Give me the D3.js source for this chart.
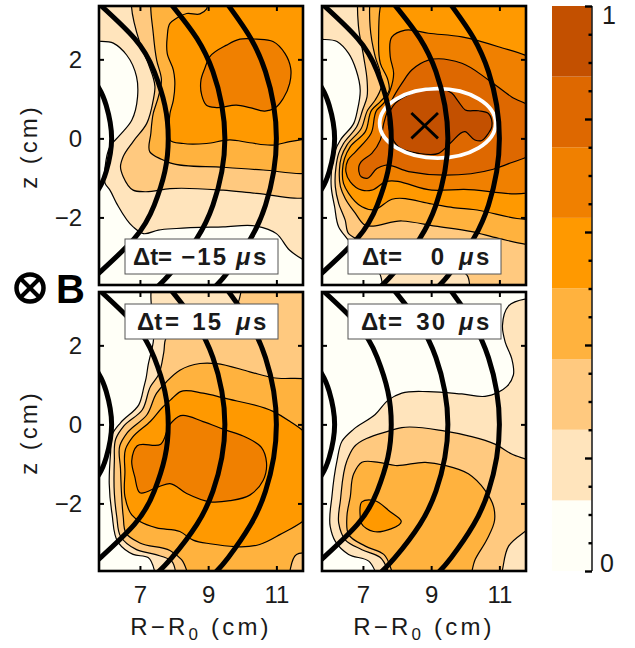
<!DOCTYPE html>
<html><head><meta charset="utf-8">
<style>html,body{margin:0;padding:0;background:#fff}svg{display:block}text{font-family:"Liberation Sans",sans-serif;fill:#1a1a1a}</style>
<script src="https://cdn.jsdelivr.net/npm/d3@7/dist/d3.min.js"></script>
</head><body><svg id="c" width="635" height="648"></svg>
<script>
// ---------- data (R-R0 in cm, z in cm) ----------
const xDomain=[5.8,11.78], zDomain=[-3.71,3.35];
const xTicks=[7,9,11], zTicks=[-2,0,2];
const levelColors=["#FFFFF7","#FFE4BC","#FFC97F","#FFB23E","#FF9900","#F08000","#DE6800","#C35000"];
const barMajor=[0,.2,.4,.6,.8,1];
const barMinor=[.05,.1,.15,.25,.3,.35,.45,.5,.55,.65,.7,.75,.85,.9,.95];
const barLabels=[0,1];
const panelLabels=["−15","0","15","30"];

const arc1=[[5.47,1.69],[5.8,1.27],[6.01,.84],[6.17,0],[6.01,-.84],[5.8,-1.27],[5.47,-1.69]];
const arc2=[[5.6,3.6],[5.73,3.46],[6.84,2.53],[7.42,1.69],[7.73,.84],[7.83,0],[7.73,-.84],[7.42,-1.69],[6.84,-2.53],[5.73,-3.46],[5.6,-3.6]];
const arc3=[[7.93,3.38],[8.67,2.53],[9.14,1.69],[9.4,.84],[9.49,0],[9.4,-.84],[9.14,-1.69],[8.67,-2.53],[7.93,-3.38],[7.52,-3.75]];
const arc4=[[9.58,3.38],[10.25,2.53],[10.68,1.69],[10.92,.84],[11,0],[10.92,-.84],[10.68,-1.69],[10.25,-2.53],[9.58,-3.38],[9.21,-3.75]];
const fluxArcs=[arc1,arc2,arc3,arc4];

const p1L1=[[5.8,2.51],[6.22,2.41],[6.61,2.11],[6.9,1.56],[6.93,1.05],[6.76,.46],[6.41,.08],[6.12,-.21],[5.98,-.72],[5.98,-1.14],[6.12,-1.31],[6.32,-1.65],[6.8,-2.24],[7.1,-2.41],[7.54,-2.32],[8.07,-2.28],[9.44,-2.24],[10.42,-2.22],[11,-2.41],[11.39,-2.83],[11.78,-3.17],[11.78,3.35],[5.8,3.35]];
const p1L2=[[6.76,3.35],[7,2.41],[7.24,1.9],[7.44,1.31],[7.39,.97],[7.2,.38],[6.8,-.08],[6.51,-.46],[6.43,-.72],[6.51,-.97],[6.8,-1.31],[7.15,-1.35],[7.88,-1.27],[9.44,-1.31],[10.42,-1.39],[11.78,-1.48],[11.78,3.35]];
const p1L3=[[7.34,3.35],[7.39,2.66],[7.49,1.98],[7.63,1.48],[7.54,1.05],[7.39,.63],[7.32,.13],[7.29,-.34],[7.63,-.53],[7.88,-.62],[9.44,-.73],[10.61,-.8],[11.78,-.86],[11.78,3.35]];
const p1L4=[[8.97,3.35],[8.95,3.27],[8.76,3.15],[8.37,3.16],[8.07,3.04],[7.88,2.91],[7.8,2.57],[7.8,2.15],[7.98,1.73],[8.02,1.48],[7.98,.97],[7.88,.63],[7.86,.13],[7.88,-.04],[8.27,-.13],[8.95,-.13],[9.64,-.04],[10.22,-.11],[10.9,-.17],[11.39,-.08],[11.78,.03],[11.78,3.35]];
const p1L5=[[8.9,1.77],[8.79,1.48],[8.81,1.1],[8.95,.84],[9.24,.78],[9.83,.84],[10.22,.78],[10.66,.69],[10.95,.76],[11.2,1.01],[11.39,1.39],[11.42,1.77],[11.25,2.15],[10.9,2.45],[10.42,2.51],[9.93,2.51],[9.54,2.36],[9.05,2.07]];

const p2L1=[[5.8,2.56],[6.24,2.45],[6.58,2.15],[6.8,1.73],[6.92,1.22],[6.84,.72],[6.73,.38],[6.34,-.04],[6.19,-.3],[6.09,-.72],[6.07,-1.22],[6.17,-1.73],[6.29,-2.24],[6.53,-2.53],[7.51,-3.46],[7.63,-3.71],[11.78,-3.71],[11.78,3.35],[5.8,3.35]];
const p2L2=[[6.87,3.35],[6.87,2.83],[7.02,2.07],[7.12,1.48],[7.12,1.05],[6.99,.72],[6.82,.3],[6.43,-.13],[6.29,-.38],[6.21,-.72],[6.19,-1.22],[6.29,-1.65],[6.48,-2.07],[6.58,-2.41],[6.78,-2.53],[7.46,-2.91],[8.63,-3.17],[9.61,-3.25],[10.05,-3.46],[10.19,-3.71],[11.78,-3.71],[11.78,3.35]];
const p2L3=[[7.24,3.35],[7.21,2.83],[7.36,2.07],[7.51,1.65],[7.54,1.31],[7.36,.97],[7.14,.72],[6.95,.25],[6.53,-.17],[6.37,-.46],[6.31,-.8],[6.34,-1.22],[6.48,-1.52],[6.78,-1.9],[7.02,-2.17],[8.14,-2.09],[9.12,-2.22],[10.19,-2.36],[10.97,-2.53],[11.78,-2.7],[11.78,3.35]];
const p2L4=[[7.61,3.35],[7.46,2.57],[7.51,1.9],[7.73,1.48],[7.77,1.22],[7.51,.93],[7.26,.72],[7.07,.17],[6.63,-.21],[6.46,-.51],[6.4,-.8],[6.43,-1.14],[6.58,-1.39],[6.97,-1.73],[7.31,-1.81],[7.85,-1.54],[9.02,-1.66],[9.64,-1.75],[10.23,-1.8],[11.78,-2.03],[11.78,3.1],[11.36,3.35]];
const p2L5=[[11.78,1.98],[10.97,2.32],[9.9,2.57],[8.92,2.66],[8.24,2.74],[7.85,2.57],[7.8,2.07],[7.9,1.65],[7.8,1.22],[7.61,.89],[7.41,.72],[7.24,.13],[6.78,-.34],[6.56,-.55],[6.5,-.84],[6.63,-1.1],[6.97,-1.31],[7.26,-1.31],[7.65,-1.1],[9.02,-1.31],[9.94,-1.29],[11.78,-1.31]];
const p2L6=[[6.95,-.59],[7.26,-.38],[7.51,-.04],[7.61,.38],[7.85,.97],[8.14,1.39],[8.43,1.73],[8.92,1.98],[9.9,1.9],[10.68,1.48],[11.36,1.05],[11.78,.72],[11.78,-.34],[11.3,-.63],[10.82,-.78],[9.41,-.93],[8.34,-.84],[7.65,-.68],[7.41,-.76],[7.12,-1.01],[6.95,-.97],[6.89,-.68]];
const p2L7=[[7.95,.89],[8.43,1.14],[8.92,1.27],[9.61,1.14],[9.8,.93],[10,.72],[10.39,.7],[10.68,.63],[10.78,.3],[10.68,.13],[10.47,-.06],[10.28,-.04],[9.99,.17],[9.55,-.13],[9.22,-.38],[8.63,-.38],[8.04,-.21],[7.8,.13],[7.75,.55]];

const p3L1=[[7.39,3.35],[7.39,2.08],[7.24,1.5],[7.18,1.17],[7.12,.96],[6.97,.5],[6.43,.04],[6.19,-.25],[6.14,-.71],[6.1,-1.5],[6.18,-2.25],[6.37,-3],[6.8,-3.29],[7.24,-3.37],[7.54,-3.71],[11.78,-3.71],[11.78,3.35]];
const p3L2=[[10.07,3.35],[9.83,3],[8.46,2.5],[7.76,2.17],[7.7,1.83],[7.54,1.25],[7.31,.96],[7.07,.37],[6.53,-.04],[6.29,-.37],[6.25,-.92],[6.25,-1.75],[6.32,-2.33],[6.43,-2.83],[6.9,-3.17],[7.44,-3.29],[7.93,-3.46],[8.12,-3.71],[11.78,-3.71],[11.78,3.35]];
const p3L3=[[11.78,1.12],[10.9,1.18],[10.22,1.33],[9.24,1.54],[8.76,1.54],[8.17,1.37],[7.78,1.08],[7.49,.79],[7.21,.25],[6.63,-.21],[6.41,-.54],[6.43,-1.12],[6.46,-1.75],[6.51,-2.33],[6.59,-2.75],[7,-3],[7.88,-3.19],[8.22,-3.42],[8.51,-3.71],[11.29,-3.71],[11.59,-3.29],[11.78,-3.23]];
const p3L4=[[11.78,-.37],[11.39,.08],[10.9,.33],[9.44,.67],[8.85,.79],[8.19,.83],[7.9,.62],[7.65,.42],[7.31,.08],[6.78,-.33],[6.58,-.62],[6.56,-1.21],[6.56,-1.83],[6.76,-2.29],[7,-2.46],[7.49,-2.62],[8.17,-2.71],[8.56,-2.93],[9.05,-3.02],[10.51,-3.04],[11.1,-2.79],[11.78,-2.25]];
const p3L5=[[6.92,-.54],[7.61,-.5],[7.88,0],[8.19,.22],[8.85,.07],[9.44,-.12],[10.12,-.33],[10.56,-.58],[10.71,-.96],[10.61,-1.42],[10.22,-1.79],[9.64,-1.93],[9.05,-1.96],[8.37,-1.75],[7.88,-1.5],[7.54,-1.58],[7,-1.73],[6.85,-1.33],[6.76,-.92]];

const p4L1=[[11.78,3.21],[11.27,3],[11.09,2.5],[11.17,2.08],[11.36,1.67],[11.41,1.25],[11.22,.96],[10.92,.79],[10.58,.71],[9.9,.77],[8.92,.83],[8.14,.79],[7.75,.62],[7.36,.25],[6.73,-.12],[6.39,-.42],[6.24,-.92],[6.09,-1.83],[6.04,-2.58],[6.19,-2.96],[6.58,-3.29],[7.17,-3.46],[7.51,-3.71],[11.78,-3.71]];
const p4L2=[[11.78,-1],[11.36,-.75],[10.87,-.5],[10.09,-.29],[9.41,-.17],[8.14,-.08],[7.75,-.17],[6.73,-.58],[6.53,-.92],[6.34,-1.92],[6.29,-2.5],[6.48,-2.92],[6.97,-3.17],[7.51,-3.37],[7.9,-3.71],[10.97,-3.71],[11.27,-3.08],[11.78,-2.46]];
const p4L3=[[6.97,-.96],[7.46,-.96],[7.95,-1.04],[8.83,-.96],[9.41,-1.04],[10.09,-1.25],[10.58,-1.67],[10.83,-2.08],[10.86,-2.42],[10.63,-2.92],[10.29,-3.42],[10.09,-3.71],[8,-3.71],[7.61,-3.29],[7.07,-3.08],[6.58,-2.79],[6.53,-2.33],[6.63,-1.83],[6.73,-1.25]];
const p4L4=[[6.97,-1.96],[7.31,-1.92],[7.8,-2.21],[8.12,-2.44],[7.31,-2.71],[6.95,-2.5],[6.92,-2.33]];

const panel1Levels=[p1L1,p1L2,p1L3,p1L4,p1L5];
const panel2Levels=[p2L1,p2L2,p2L3,p2L4,p2L5,p2L6,p2L7];
const panel3Levels=[p3L1,p3L2,p3L3,p3L4,p3L5];
const panel4Levels=[p4L1,p4L2,p4L3,p4L4];

const peakEllipse={x:9.19,z:.38,rx:1.7,rz:.88};
const peakCross=[[[8.42,.64],[9.2,0]],[[8.42,0],[9.2,.64]]];

// ---------- layout ----------
const panels=[
 {l:99,r:303,t:6,b:285,levels:panel1Levels,label:panelLabels[0],showX:false,boxY:233,dl:8,eq:33,ne:103},
 {l:322,r:526,t:6,b:285,levels:panel2Levels,label:panelLabels[1],showX:false,boxY:233,peak:true,dl:14,eq:40,ne:98},
 {l:99,r:303,t:292,b:571,levels:panel3Levels,label:panelLabels[2],showX:true,boxY:12,dl:12,eq:40,ne:98},
 {l:322,r:526,t:292,b:571,levels:panel4Levels,label:panelLabels[3],showX:true,boxY:12,dl:13,eq:40,ne:99}
];
const svg=d3.select("#c");
const defs=svg.append("defs");
const tickFont=24;
const pushOut=d=>[d[0]>=xDomain[1]?d[0]+.25:d[0]<=xDomain[0]?d[0]-.25:d[0], d[1]>=zDomain[1]?d[1]+.25:d[1]<=zDomain[0]?d[1]-.25:d[1]];

panels.forEach((p,i)=>{
  const x=d3.scaleLinear().domain(xDomain).range([p.l,p.r]);
  const z=d3.scaleLinear().domain(zDomain).range([p.b,p.t]);
  const cid="clip"+i;
  defs.append("clipPath").attr("id",cid).append("rect")
    .attr("x",p.l).attr("y",p.t).attr("width",p.r-p.l).attr("height",p.b-p.t);
  const g=svg.append("g");
  const inner=g.append("g").attr("clip-path",`url(#${cid})`);
  inner.append("rect").attr("x",p.l).attr("y",p.t).attr("width",p.r-p.l).attr("height",p.b-p.t).attr("fill",levelColors[0]);
  const line=d3.line().x(d=>x(d[0])).y(d=>z(d[1]));
  const smooth=d3.line().x(d=>x(d[0])).y(d=>z(d[1])).curve(d3.curveCatmullRomClosed.alpha(.9));
  inner.selectAll("path.lv").data(p.levels).join("path").attr("class","lv")
    .attr("d",d=>smooth(d.map(pushOut)))
    .attr("fill",(d,k)=>levelColors[k+1]).attr("stroke","#000").attr("stroke-width",1.2).attr("stroke-linejoin","round");
  if(p.peak){
    inner.append("ellipse").attr("cx",x(peakEllipse.x)).attr("cy",z(peakEllipse.z))
      .attr("rx",x(peakEllipse.x+peakEllipse.rx)-x(peakEllipse.x))
      .attr("ry",z(peakEllipse.z-peakEllipse.rz)-z(peakEllipse.z))
      .attr("fill","none").attr("stroke","#fff").attr("stroke-width",3.8);
  }
  const arcLine=d3.line().x(d=>x(d[0])).y(d=>z(d[1])).curve(d3.curveNatural);
  inner.selectAll("path.arc").data(fluxArcs).join("path").attr("class","arc")
    .attr("d",arcLine).attr("fill","none").attr("stroke","#000").attr("stroke-width",5);
  if(p.peak){
    inner.selectAll("path.cross").data(peakCross).join("path").attr("class","cross")
      .attr("d",line).attr("stroke","#000").attr("stroke-width",2.8).attr("fill","none");
  }
  // frame
  g.append("rect").attr("x",p.l).attr("y",p.t).attr("width",p.r-p.l).attr("height",p.b-p.t)
    .attr("fill","none").attr("stroke","#000").attr("stroke-width",2.6);
  // axes
  const styleAxis=s=>{s.select(".domain").remove();s.selectAll("line").attr("stroke","#000").attr("stroke-width",2);
    s.selectAll("text").attr("font-size",tickFont).attr("font-family",'"Liberation Sans"').attr("fill","#1a1a1a");};
  g.append("g").attr("transform",`translate(0,${p.b})`)
    .call(d3.axisBottom(x).tickValues(xTicks).tickSize(-5).tickPadding(15).tickFormat(p.showX?d3.format("d"):""))
    .call(styleAxis);
  g.append("g").attr("transform",`translate(0,${p.t})`)
    .call(d3.axisTop(x).tickValues(xTicks).tickSize(-5).tickFormat("")).call(styleAxis);
  g.append("g").attr("transform",`translate(${p.l},0)`)
    .call(d3.axisLeft(z).tickValues(zTicks).tickSize(-5).tickPadding(17).tickFormat(p.l===99?d3.format("d"):""))
    .call(styleAxis);
  g.append("g").attr("transform",`translate(${p.r},0)`)
    .call(d3.axisRight(z).tickValues(zTicks).tickSize(-5).tickFormat("")).call(styleAxis);
  // label box
  const bx=p.l+26, by=p.t+p.boxY, bw=153, bh=35;
  g.append("rect").attr("x",bx).attr("y",by).attr("width",bw).attr("height",bh).attr("fill","#fff").attr("stroke","#555").attr("stroke-width",1);
  const tb=by+bh-9.5, fs=24;
  const t=(xx,s,anchor,style)=>g.append("text").attr("x",bx+xx).attr("y",tb).attr("font-size",fs).attr("font-weight","bold")
    .attr("text-anchor",anchor||"start").attr("font-style",style||"normal").text(s);
  t(p.dl,"Δt"); t(p.eq,"=");
  t(p.ne,p.label,"end").attr("letter-spacing",2);
  t(111,"μ","start","italic"); t(128,"s");
  // axis titles
  if(p.showX){
    const ax=g.append("text").attr("x",(p.l+p.r)/2).attr("y",635).attr("text-anchor","middle").attr("font-size",24).attr("letter-spacing",3.2);
    ax.append("tspan").text("R−R");
    ax.append("tspan").attr("font-size",17).attr("dy",5).text("0");
    ax.append("tspan").attr("dy",-5).attr("xml:space","preserve").text(" (cm)");
  }
  if(p.l===99){
    g.append("text").attr("transform",`translate(37,${(p.t+p.b)/2+1}) rotate(-90)`).attr("text-anchor","middle").attr("font-size",24).attr("letter-spacing",3).text("z (cm)");
  }
});

// ---------- B-field symbol ----------
const bSym=svg.append("g");
bSym.append("circle").attr("cx",30).attr("cy",288).attr("r",13.5).attr("fill","#fff").attr("stroke","#000").attr("stroke-width",4.5);
[[-1,-1],[1,-1]].forEach(s=>bSym.append("line").attr("x1",30+s[0]*10).attr("y1",288+s[1]*10).attr("x2",30-s[0]*10).attr("y2",288-s[1]*10).attr("stroke","#000").attr("stroke-width",4));
svg.append("text").attr("x",56).attr("y",303).attr("font-size",40).attr("font-weight","bold").style("fill","#000").text("B");

// ---------- colour bar ----------
const barL=552, barR=592, barT=6, barB=571;
const v=d3.scaleLinear().domain([0,1]).range([barB,barT]);
const nL=levelColors.length;
svg.append("g").selectAll("rect").data(levelColors).join("rect")
  .attr("x",barL).attr("width",barR-barL)
  .attr("y",(d,i)=>v((i+1)/nL)).attr("height",(d,i)=>v(i/nL)-v((i+1)/nL)).attr("fill",d=>d);
svg.append("line").attr("x1",barR).attr("x2",barR).attr("y1",barT).attr("y2",barB).attr("stroke","#222").attr("stroke-width",1.6);
const axB=svg.append("g").attr("transform",`translate(${barR},0)`);
axB.append("g").call(d3.axisLeft(v).tickValues(barMajor).tickSize(7).tickFormat(""))
  .call(s=>{s.select(".domain").remove();s.selectAll("line").attr("stroke","#000").attr("stroke-width",2.4);});
axB.append("g").call(d3.axisLeft(v).tickValues(barMinor).tickSize(3.5).tickFormat(""))
  .call(s=>{s.select(".domain").remove();s.selectAll("line").attr("stroke","#000").attr("stroke-width",2.4);});
svg.selectAll("text.bl").data(barLabels).join("text").attr("class","bl")
  .attr("x",d=>d===1?602:600).attr("y",d=>d===1?24:572).attr("font-size",25).text(d=>d);
</script></body></html>
